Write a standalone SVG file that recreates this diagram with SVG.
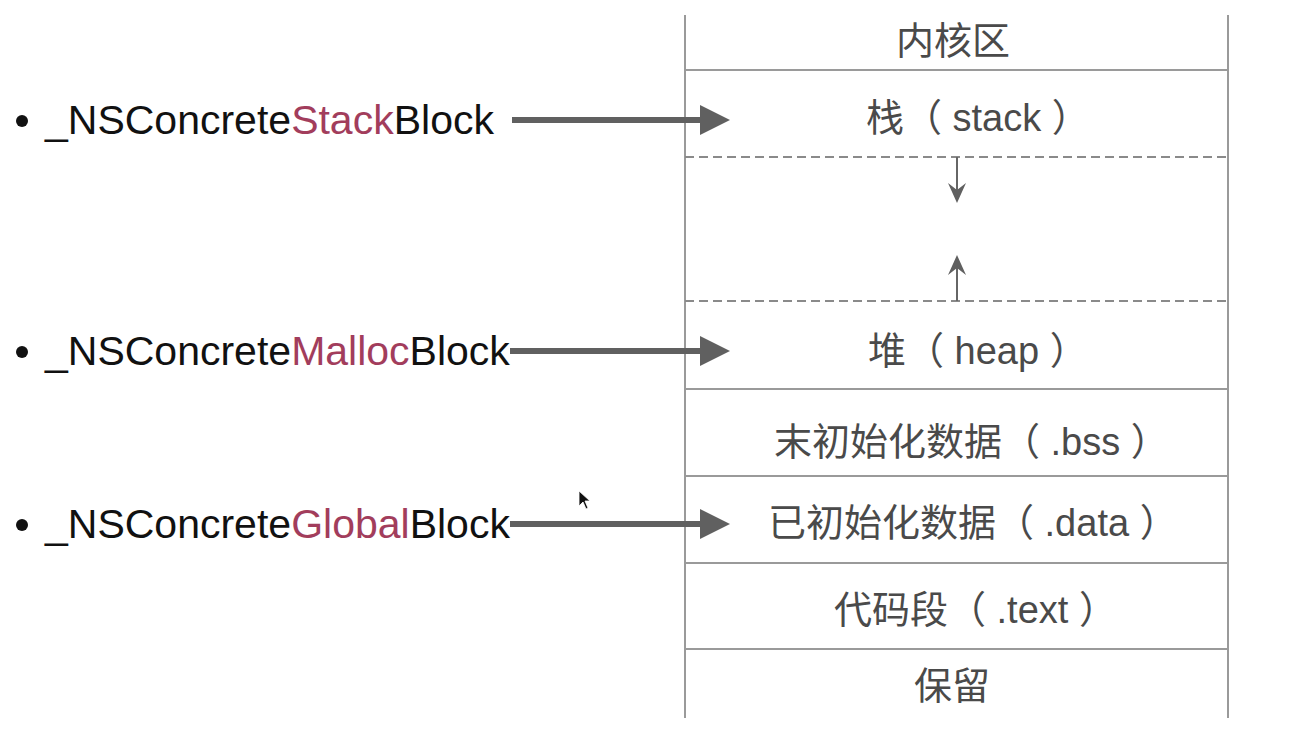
<svg xmlns="http://www.w3.org/2000/svg" width="1300" height="738" viewBox="0 0 1300 738">
<style>
.lbl{font-family:"Liberation Sans","Noto Sans CJK SC",Arial,sans-serif;font-size:41px;fill:#111}
.hl{fill:#a23d5c}
.seg{font-family:"Liberation Sans","Noto Sans CJK SC",sans-serif;font-size:38px;fill:#4a4a4a}
.border{stroke:#9a9a9a;stroke-width:2;fill:none}
.dash{stroke:#8a8a8a;stroke-width:2;stroke-dasharray:9 5;fill:none}
.conn{stroke:#606060;stroke-width:6;fill:none}
.head{fill:#606060}
.thin{stroke:#666;stroke-width:2;fill:none}
</style>
<rect width="1300" height="738" fill="#fff"/>
<g id="memory">
<line class="border" x1="685" y1="15" x2="685" y2="718"/>
<line class="border" x1="1228" y1="15" x2="1228" y2="718"/>
<line class="border" x1="685" y1="70" x2="1228" y2="70"/>
<line class="dash" x1="685" y1="157" x2="1228" y2="157"/>
<line class="dash" x1="685" y1="301" x2="1228" y2="301"/>
<line class="border" x1="685" y1="389" x2="1228" y2="389"/>
<line class="border" x1="685" y1="476" x2="1228" y2="476"/>
<line class="border" x1="685" y1="563" x2="1228" y2="563"/>
<line class="border" x1="685" y1="649" x2="1228" y2="649"/>
</g>
<g id="seg-kernel"><text class="seg" x="896" y="54">内核区</text></g>
<g id="seg-stack"><text class="seg" x="866" y="131" xml:space="preserve">栈（ stack ）</text></g>
<g id="seg-heap"><text class="seg" x="868" y="364" xml:space="preserve">堆（ heap ）</text></g>
<g id="seg-bss"><text class="seg" x="774" y="455" xml:space="preserve">末初始化数据（ .bss ）</text></g>
<g id="seg-data"><text class="seg" x="768" y="536" xml:space="preserve">已初始化数据（ .data ）</text></g>
<g id="seg-text"><text class="seg" x="834" y="623" xml:space="preserve">代码段（ .text ）</text></g>
<g id="seg-reserved"><text class="seg" x="914" y="699">保留</text></g>
<g id="label-stack">
<circle cx="22" cy="121" r="6" fill="#111"/>
<text class="lbl" x="45" y="134">_NSConcrete<tspan class="hl">Stack</tspan>Block</text>
</g>
<g id="label-malloc">
<circle cx="22" cy="352" r="6" fill="#111"/>
<text class="lbl" x="45" y="365">_NSConcrete<tspan class="hl">Malloc</tspan>Block</text>
</g>
<g id="label-global">
<circle cx="22" cy="525" r="6" fill="#111"/>
<text class="lbl" x="45" y="538">_NSConcrete<tspan class="hl">Global</tspan>Block</text>
</g>
<g id="connectors">
<line class="conn" x1="512" y1="120" x2="702" y2="120"/>
<polygon class="head" points="700,105 730,120 700,135"/>
<line class="conn" x1="510" y1="351" x2="702" y2="351"/>
<polygon class="head" points="700,336 730,351 700,366"/>
<line class="conn" x1="510" y1="524" x2="702" y2="524"/>
<polygon class="head" points="700,509 730,524 700,539"/>
<line class="thin" x1="957" y1="157" x2="957" y2="195"/>
<polygon class="head" points="957,203 948,183 957,190 966,183"/>
<line class="thin" x1="957" y1="301" x2="957" y2="263"/>
<polygon class="head" points="957,255 948,275 957,268 966,275"/>
</g>
<polygon points="579,491 579,506 583,502 586,509 588,508 585,501 590,501" fill="#111" stroke="#fff" stroke-width="0.8"/>
</svg>
